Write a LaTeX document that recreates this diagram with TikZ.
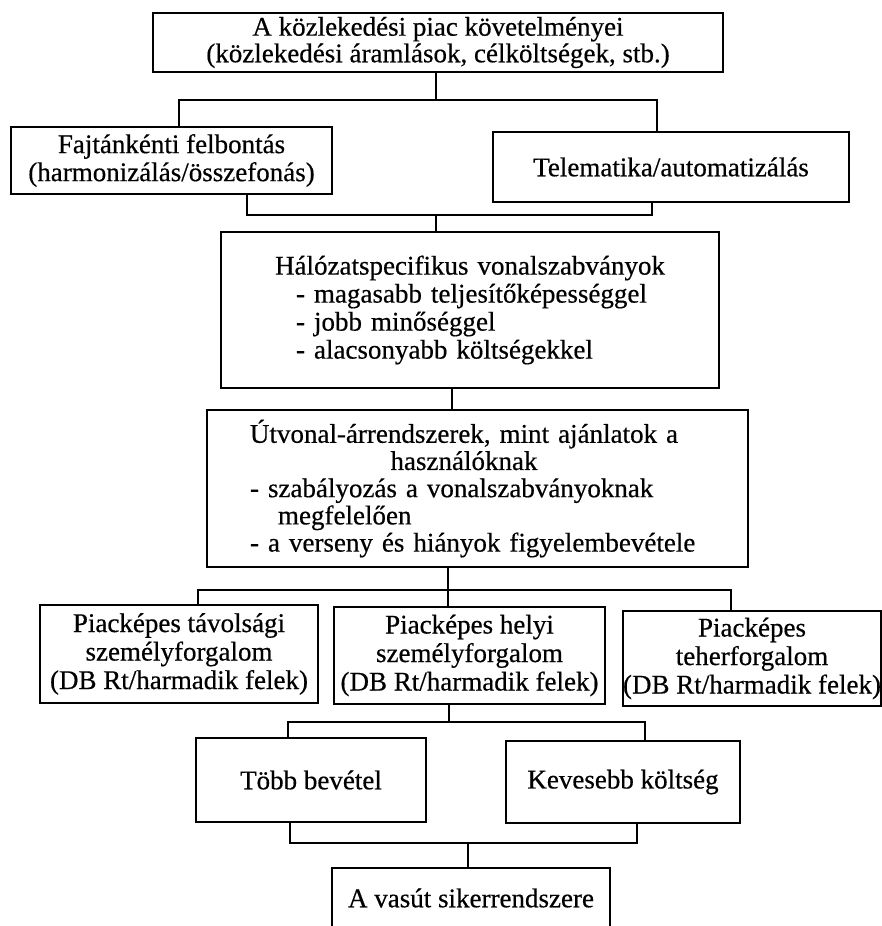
\documentclass[tikz,border=0pt]{standalone}
\usepackage{fontspec}
\setmainfont{Liberation Serif}[FakeBold=0.5]
\newcommand\diafont[1]{\fontsize{13.5pt}{#1}\selectfont}
\begin{document}
\begin{tikzpicture}[x=0.5pt,y=-0.5pt,
  box/.style={draw, line width=0.9pt, inner sep=0pt, align=center},
  conn/.style={line width=0.8pt}]
\useasboundingbox (0,0) rectangle (882,926);
\clip (0,0) rectangle (882,926);
% boxes
\node[box, font=\diafont{12.3pt}, minimum width=285pt, minimum height=29.5pt] (b1) at (438,42.5)
  {A közlekedési piac követelményei\\(közlekedési áramlások, célköltségek, stb.)};
\node[box, font=\diafont{14pt}, minimum width=160.5pt, minimum height=33.5pt] (b2) at (171.5,160.5)
  {Fajtánkénti felbontás\\(harmonizálás/összefonás)};
\node[box, font=\diafont{14pt}, minimum width=178pt, minimum height=35pt] (b3) at (671,167)
  {Telematika/automatizálás};
\node[box, font=\diafont{14pt}, text width=249pt, align=left, minimum height=78pt] (b4) at (470,310)
  {\makebox[\linewidth]{Hálózatspecifikus vonalszabványok}\\
   \hspace*{37.5pt}- magasabb teljesítőképességgel\\
   \hspace*{37.5pt}- jobb minőséggel\\
   \hspace*{37.5pt}- alacsonyabb költségekkel};
\node[box, font=\diafont{13.6pt}, text width=270.5pt, align=left, minimum height=78.5pt] (b5) at (477.5,488.5)
  {\makebox[\linewidth]{Útvonal-árrendszerek, mint ajánlatok a\hspace{13.5pt}}\\
   \makebox[\linewidth]{használóknak\hspace{13.5pt}}\\
   \hspace*{21.5pt}- szabályozás a vonalszabványoknak\\
   \hspace*{35.5pt}megfelelően\\
   \hspace*{21.5pt}- a verseny és hiányok figyelembevétele};
\node[box, font=\diafont{14.25pt}, minimum width=139pt, minimum height=49pt] (pl) at (179,654)
  {Piacképes távolsági\\személyforgalom\\(DB Rt/harmadik felek)};
\node[box, font=\diafont{14.25pt}, minimum width=135.5pt, minimum height=48.5pt] (pm) at (469.5,655.5)
  {Piacképes helyi\\személyforgalom\\(DB Rt/harmadik felek)};
\node[box, font=\diafont{14.25pt}, minimum width=128pt, minimum height=47.5pt] (pr) at (752,658.5)
  {Piacképes\\teherforgalom\\(DB Rt/harmadik felek)};
\node[box, font=\diafont{14pt}, minimum width=115pt, minimum height=42pt] (tb) at (311,780)
  {Több bevétel};
\node[box, font=\diafont{14pt}, minimum width=117pt, minimum height=41pt] (kk) at (623,782)
  {Kevesebb költség};
\node[box, font=\diafont{14pt}, minimum width=139pt, minimum height=30pt] (vs) at (471,898)
  {A vasút sikerrendszere};
% junction coordinates
\coordinate (j1) at (436,100);
\coordinate (a1) at (179,100);
\coordinate (a2) at (657,100);
\coordinate (c1) at (247,215);
\coordinate (c2) at (652,215);
\coordinate (j2) at (436,215);
\coordinate (j3) at (452,400);
\coordinate (d0) at (448,590);
\coordinate (d1) at (198,590);
\coordinate (d2) at (731,590);
\coordinate (e0) at (449,722);
\coordinate (e1) at (288,722);
\coordinate (e2) at (645,722);
\coordinate (f0) at (468,843);
\coordinate (f1) at (290,843);
\coordinate (f2) at (637,843);
% connectors
\draw[conn] (j1 |- b1.south) -- (j1);
\draw[conn] (a1 |- b2.north) -- (a1) -- (a2) -- (a2 |- b3.north);
\draw[conn] (c1 |- b2.south) -- (c1) -- (c2) -- (c2 |- b3.south);
\draw[conn] (j2) -- (j2 |- b4.north);
\draw[conn] (j3 |- b4.south) -- (j3 |- b5.north);
\draw[conn] (d0 |- b5.south) -- (d0) -- (d0 |- pm.north);
\draw[conn] (d1 |- pl.north) -- (d1) -- (d2) -- (d2 |- pr.north);
\draw[conn] (e0 |- pm.south) -- (e0);
\draw[conn] (e1 |- tb.north) -- (e1) -- (e2) -- (e2 |- kk.north);
\draw[conn] (f1 |- tb.south) -- (f1) -- (f2) -- (f2 |- kk.south);
\draw[conn] (f0) -- (f0 |- vs.north);
\end{tikzpicture}
\end{document}
